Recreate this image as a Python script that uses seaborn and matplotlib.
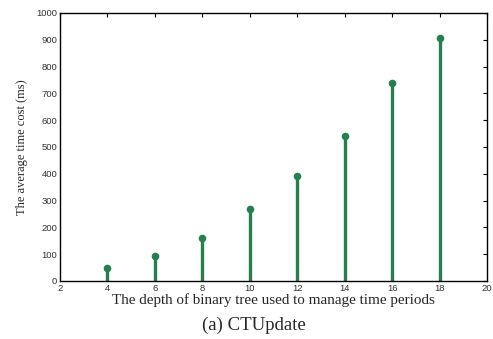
import matplotlib
matplotlib.use("Agg")
import matplotlib.pyplot as plt
import seaborn as sns
import pandas as pd

depth = [4, 6, 8, 10, 12, 14, 16, 18]
avg_time = [49, 94, 159, 268, 393, 540, 737, 906]
x_ticks = [2, 4, 6, 8, 10, 12, 14, 16, 18, 20]
y_ticks = [0, 100, 200, 300, 400, 500, 600, 700, 800, 900, 1000]

sns.set_theme(style="white")
plt.rcParams['font.family'] = ['DejaVu Sans']

df = pd.DataFrame({"depth": depth, "time": avg_time})
color = "#25804f"

fig = plt.figure(figsize=(4.93, 3.39), dpi=100)
ax = fig.add_axes([60/493, 1 - 281/339, (487-60)/493, (281-13)/339])

ax.vlines(df["depth"], 0, df["time"], color=color, linewidth=2.4, zorder=2)
sns.scatterplot(data=df, x="depth", y="time", ax=ax, color=color, s=30,
                edgecolor=color, linewidth=0, zorder=3, legend=False)

ax.set_xlim(2, 20)
ax.set_ylim(0, 1000)
ax.set_xticks(x_ticks)
ax.set_yticks(y_ticks)
ax.tick_params(axis='both', direction='in', length=3, width=0.8, labelsize=6.8,
               top=True, right=True, colors='black', pad=2)
for lab in ax.get_xticklabels() + ax.get_yticklabels():
    lab.set_family('Liberation Sans')
    lab.set_color('#333333')
for sp in ax.spines.values():
    sp.set_color('black')
    sp.set_linewidth(1.0)

serif = 'Liberation Serif'
ax.set_xlabel("The depth of binary tree used to manage time periods",
              fontsize=10.9, family=serif, labelpad=0)
ax.set_ylabel("The average time cost (ms)", fontsize=9, family=serif, labelpad=6)

fig.text(254/493, 1 - 325/339, "(a) CTUpdate", ha='center', va='center',
         fontsize=13.5, family=serif)

fig.savefig("out.png", dpi=100)
